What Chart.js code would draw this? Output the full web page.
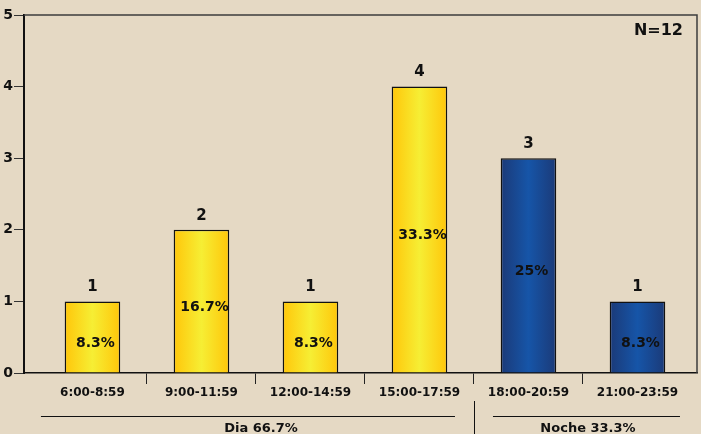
<!DOCTYPE html>
<html>
<head>
<meta charset="utf-8">
<script src="https://cdn.jsdelivr.net/npm/chart.js@4/dist/chart.umd.min.js"></script>
<style>
  html, body { margin: 0; padding: 0; background: #e5d9c4; }
  #wrap { width: 701px; height: 434px; }
</style>
</head>
<body>
<div id="wrap"><canvas id="horarioChart" width="701" height="434"></canvas></div>
<script>
const categories = ['6:00-8:59', '9:00-11:59', '12:00-14:59', '15:00-17:59', '18:00-20:59', '21:00-23:59'];
const counts = [1, 2, 1, 4, 3, 1];
const percents = ['8.3%', '16.7%', '8.3%', '33.3%', '25%', '8.3%'];
const periods = ['Dia', 'Dia', 'Dia', 'Dia', 'Noche', 'Noche'];
const groupNames = ['Dia', 'Noche'];
const groupLabels = ['Dia 66.7%', 'Noche 33.3%'];
const yTicks = [0, 1, 2, 3, 4, 5];
const totalLabel = 'N=12';

const FONT = "'DejaVu Sans', Verdana, sans-serif";
const BG = '#e5d9c4';

// horizontal gradient across each bar (yellow for day, blue for night)
function barFill(context) {
  const chart = context.chart;
  const i = context.dataIndex;
  const night = periods[i] === 'Noche';
  const xs = chart.scales.x;
  if (!chart.chartArea || i === undefined || !xs) return night ? '#1a4a95' : '#ffd81a';
  const cx = xs.getPixelForValue(i);
  const half = (xs.getPixelForValue(1) - xs.getPixelForValue(0)) * 0.255;
  const g = chart.ctx.createLinearGradient(cx - half, 0, cx + half, 0);
  if (night) {
    g.addColorStop(0, '#1b3a78');
    g.addColorStop(0.5, '#1655a8');
    g.addColorStop(1, '#1b3a78');
  } else {
    g.addColorStop(0, '#ffc60a');
    g.addColorStop(0.5, '#f6ee34');
    g.addColorStop(1, '#ffc60a');
  }
  return g;
}

const backdrop = {
  id: 'backdrop',
  beforeDraw(chart) {
    const c = chart.ctx;
    c.save();
    c.fillStyle = BG;
    c.fillRect(0, 0, chart.width, chart.height);
    c.restore();
  }
};

const frame = {
  id: 'frame',
  afterDraw(chart) {
    const { ctx: c, chartArea: a, scales } = chart;
    const xs = scales.x;
    c.save();
    // top and right border
    c.strokeStyle = '#3c3c3c';
    c.lineWidth = 1.5;
    c.beginPath();
    c.moveTo(a.left, a.top);
    c.lineTo(a.right, a.top);
    c.lineTo(a.right, a.bottom);
    c.stroke();

    // value on top, percentage inside
    const meta = chart.getDatasetMeta(0);
    c.fillStyle = '#111';
    c.textAlign = 'center';
    c.textBaseline = 'middle';
    meta.data.forEach((bar, i) => {
      c.font = 'bold 15px ' + FONT;
      c.fillText(String(counts[i]), bar.x, bar.y - 14);
      c.font = 'bold 14px ' + FONT;
      c.fillText(percents[i], bar.x + 3, (bar.y + bar.base) / 2 + 6);
    });

    c.font = 'bold 16px ' + FONT;
    c.textAlign = 'right';
    c.fillText(totalLabel, a.right - 14, a.top + 16);

    // day / night groups under the axis
    const catW = xs.getPixelForValue(1) - xs.getPixelForValue(0);
    c.strokeStyle = '#111';
    c.lineWidth = 1;
    c.font = 'bold 13px ' + FONT;
    c.textAlign = 'center';
    c.textBaseline = 'alphabetic';
    groupNames.forEach((name, g) => {
      const first = periods.indexOf(name);
      const last = periods.lastIndexOf(name);
      const left = xs.getPixelForValue(first) - catW / 2;
      const right = xs.getPixelForValue(last) + catW / 2;
      const inL = g === 0 ? 3 : 19;
      const inR = g === 0 ? 19 : 12;
      c.beginPath();
      c.moveTo(left + inL, a.bottom + 43.5);
      c.lineTo(right - inR, a.bottom + 43.5);
      c.stroke();
      c.fillText(groupLabels[g], (left + right) / 2 + 5, a.bottom + 59);
      if (g > 0) {
        c.beginPath();
        c.moveTo(Math.round(left) + 0.5, a.bottom + 28);
        c.lineTo(Math.round(left) + 0.5, chart.height);
        c.stroke();
      }
    });
    c.restore();
  }
};

const chart = new Chart(document.getElementById('horarioChart'), {
  type: 'bar',
  data: {
    labels: categories,
    datasets: [{
      data: counts,
      backgroundColor: barFill,
      borderColor: '#111',
      borderWidth: 1.5,
      barPercentage: 1,
      categoryPercentage: 0.51
    }]
  },
  options: {
    responsive: false,
    animation: false,
    devicePixelRatio: 1,
    layout: { padding: { top: 15, right: 4, bottom: 0, left: 0 } },
    plugins: {
      legend: { display: false },
      tooltip: { enabled: false }
    },
    scales: {
      x: {
        offset: true,
        afterFit(scale) { scale.height = 61; },
        // first bar sits a little further in from the value axis
        afterUpdate(scale) { scale._startValue = -0.628; scale._valueRange = 6.174; },
        border: { color: '#111', width: 1.5 },
        grid: {
          offset: true,
          drawOnChartArea: false,
          tickLength: 11,
          color: (ctx) => (ctx.type !== 'tick' || ctx.index === 0) ? 'rgba(0,0,0,0)' : '#222'
        },
        ticks: {
          color: '#111',
          padding: 2,
          maxRotation: 0,
          autoSkip: false,
          font: { family: FONT, size: 12, weight: 'bold' }
        }
      },
      y: {
        min: yTicks[0],
        max: yTicks[yTicks.length - 1],
        afterFit(scale) { scale.width = 24; },
        afterBuildTicks(scale) { scale.ticks = yTicks.map(v => ({ value: v })); },
        border: { color: '#111', width: 2 },
        grid: { drawOnChartArea: false, tickLength: 10, color: '#333' },
        ticks: {
          color: '#111',
          padding: 1,
          font: { family: FONT, size: 14, weight: 'bold' }
        }
      }
    }
  },
  plugins: [backdrop, frame]
});
</script>
</body>
</html>
